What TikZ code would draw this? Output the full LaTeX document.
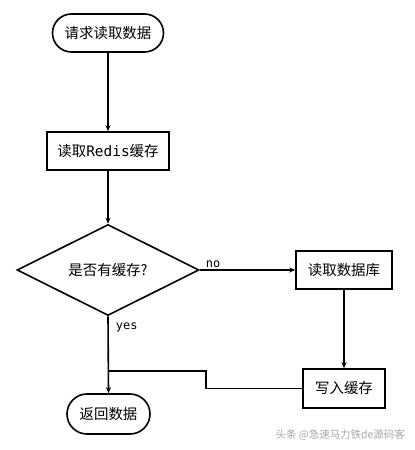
\documentclass[tikz,border=0pt]{standalone}
\usepackage{fontspec}
\setmainfont{Noto Sans CJK SC}
\newfontfamily\cjk{Noto Sans CJK SC}
\newfontfamily\monof{DejaVu Sans Mono}
\usetikzlibrary{shapes.geometric,arrows.meta}
\begin{document}
\begin{tikzpicture}[x=1bp,y=-1bp,
  every node/.style={font=\cjk\fontsize{14.5}{16}\selectfont, inner sep=0pt},
  term/.style={draw, line width=1.6bp, rounded rectangle, minimum width=#1, minimum height=38bp},
  proc/.style={draw, line width=1.6bp, minimum height=38bp},
  dec/.style={draw, line width=1.6bp, diamond, aspect=2, minimum width=182bp, minimum height=91bp},
  conn/.style={line width=1.6bp},
  arr/.style={conn, -{Stealth[length=6bp,width=5bp]}},
  lab/.style={font=\monof\fontsize{12}{14}\selectfont}]
\useasboundingbox (0,0) rectangle (414,450);
\fill[white] (0,0) rectangle (414,450);
\usetikzlibrary{shapes.misc}
\node[term=111bp] (start) at (108,33) {请求读取数据};
\node[proc, minimum width=122bp] (redis) at (108,151) {读取{\monof Redis}缓存};
\node[dec] (q) at (108,270) {};
\node at (108,270) {是否有缓存?};
\node[proc, minimum width=96bp] (db) at (344,270) {读取数据库};
\node[proc, minimum width=82bp, minimum height=39bp] (wc) at (344,388.5) {写入缓存};
\node[term=83bp, minimum height=40bp] (ret) at (108.5,414) {返回数据};
\coordinate (j) at (108,371);
\draw[arr] (start) -- (redis);
\draw[arr] (redis) -- (q.north);
\draw[arr] (q.east) -- node[lab, above, pos=0.14, yshift=2bp] {no} (db);
\draw[arr] (q.south) -- node[lab, right, pos=0.14, xshift=7bp] {yes} (ret.north);
\draw[arr] (db) -- (wc);
\draw[conn] (wc.west) -- (206,388.5) -- (206,371) -- (j);
\node[text=gray!70, font=\cjk\fontsize{10.5}{12}\selectfont, anchor=east] (wm) at (405,435) {头条 @急速马力铁de源码客};
\end{tikzpicture}
\end{document}
